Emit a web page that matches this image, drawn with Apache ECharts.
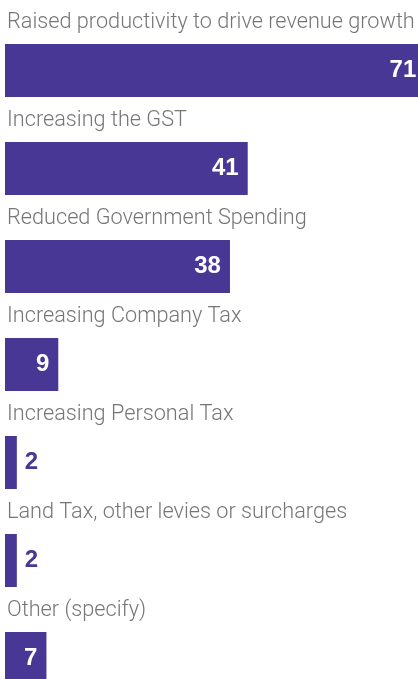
<!DOCTYPE html>
<html>
<head>
<meta charset="utf-8">
<style>
  html, body { margin: 0; padding: 0; background: #ffffff; overflow: hidden; }
  /* the plot runs past the right and bottom edges of the page */
  #chart { width: 600px; height: 708px; }
</style>
<script src="https://cdn.jsdelivr.net/npm/echarts@6/dist/echarts.min.js"></script>
</head>
<body>
<div id="chart"></div>
<script>
// Preferred ways to fund government revenue (number of responses)
const categories = [
  'Raised productivity to drive revenue growth',
  'Increasing the GST',
  'Reduced Government Spending',
  'Increasing Company Tax',
  'Increasing Personal Tax',
  'Land Tax, other levies or surcharges',
  'Other (specify)'
];
const responses = [71, 41, 38, 9, 2, 2, 7];

const BAR = '#483795';
const INSIDE_MIN = 5; // shorter bars carry their value outside the bar

const chart = echarts.init(document.getElementById('chart'), null, { renderer: 'canvas' });

const seriesData = responses.map(v => {
  const inside = v >= INSIDE_MIN;
  return {
    value: v,
    label: inside
      ? { position: 'insideRight', distance: 9, color: '#ffffff' }
      : { position: 'right', distance: 8, color: BAR }
  };
});

chart.setOption({
  animation: false,
  grid: { left: 5, top: 21.5, right: 3, bottom: 0.5, containLabel: false },
  xAxis: {
    type: 'value',
    min: 0,
    max: 100,
    show: false
  },
  yAxis: {
    type: 'category',
    data: categories,
    inverse: true,
    axisLine: { show: false },
    axisTick: { show: false },
    splitLine: { show: false },
    axisLabel: {
      inside: true,
      margin: 2,
      align: 'left',
      verticalAlign: 'middle',
      formatter: v => '{t|' + v + '}',
      rich: {
        t: {
          fontFamily: 'Roboto',
          fontWeight: 300,
          fontSize: 21.7,
          color: '#767676',
          padding: [0, 0, 96, 0]
        }
      }
    }
  },
  series: [{
    type: 'bar',
    data: seriesData,
    barWidth: 53,
    itemStyle: { color: BAR },
    label: {
      show: true,
      fontFamily: '"Liberation Sans", Arial, sans-serif',
      fontWeight: 'bold',
      fontSize: 24
    }
  }]
});
</script>
</body>
</html>
